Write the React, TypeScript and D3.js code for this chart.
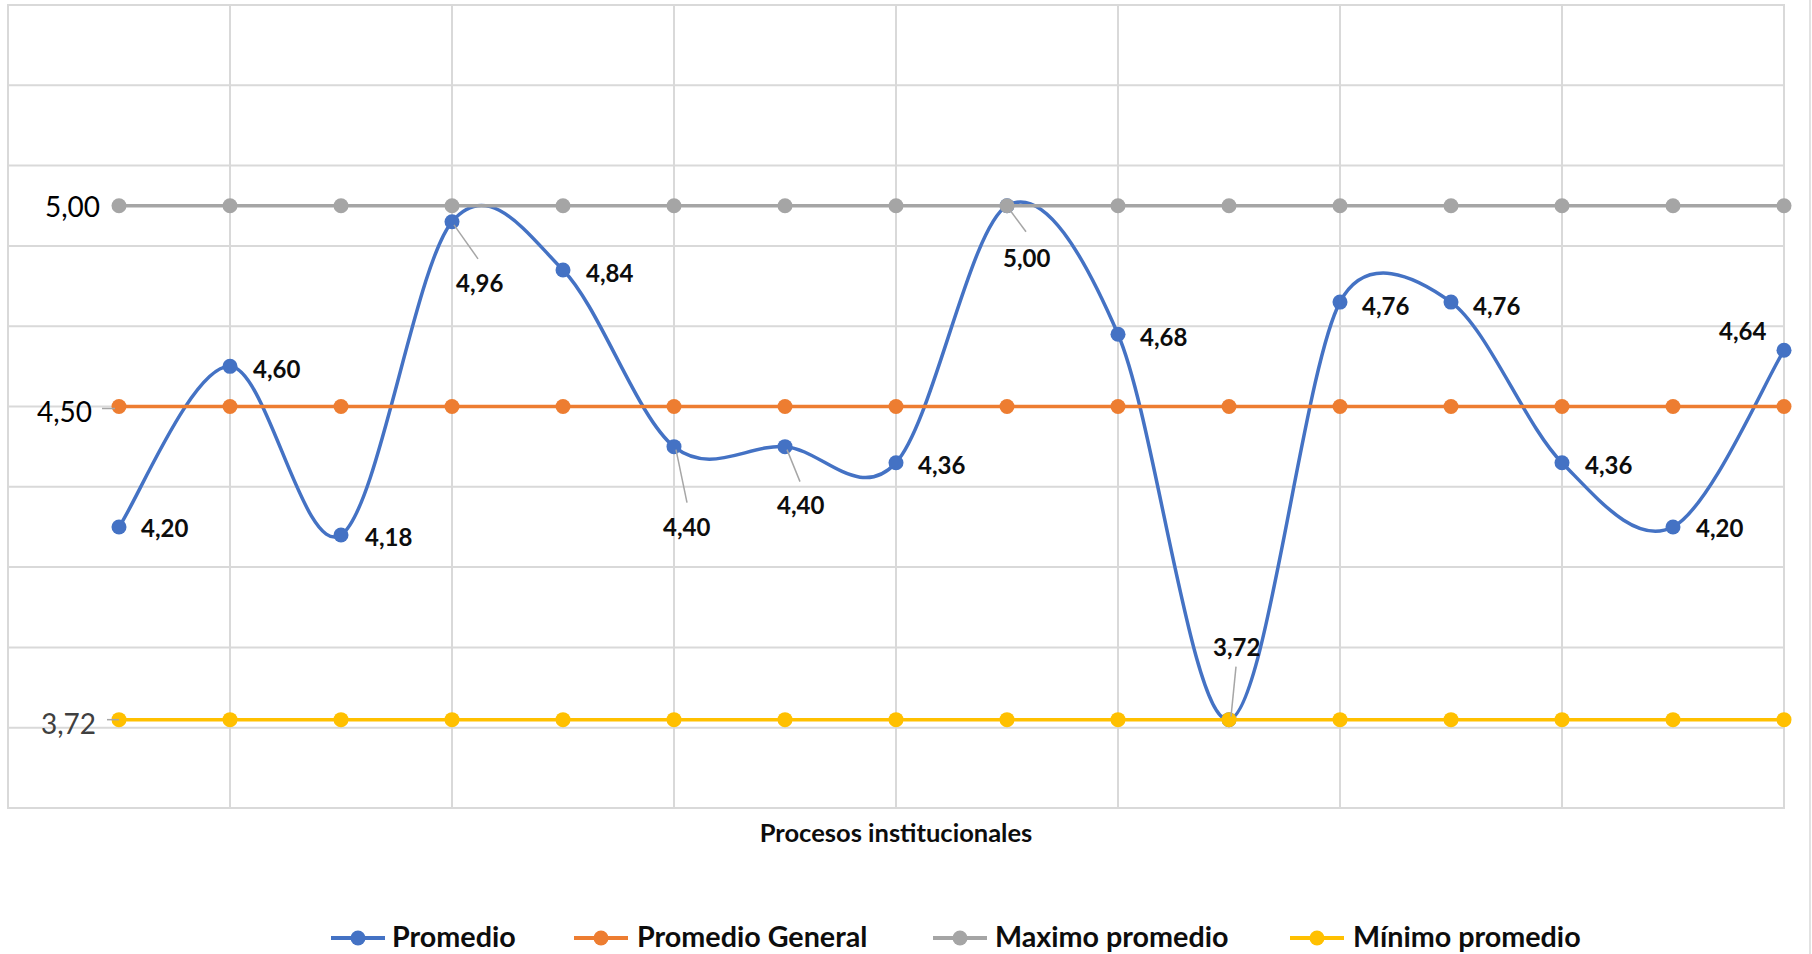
import React from "react";
import * as d3 from "d3";

// ---- data ----
const procesos = [1, 2, 3, 4, 5, 6, 7, 8, 9, 10, 11, 12, 13, 14, 15, 16];
const promedio = [4.2, 4.6, 4.18, 4.96, 4.84, 4.4, 4.4, 4.36, 5.0, 4.68, 3.72, 4.76, 4.76, 4.36, 4.2, 4.64];
const promedioGeneral = [4.5, 4.5, 4.5, 4.5, 4.5, 4.5, 4.5, 4.5, 4.5, 4.5, 4.5, 4.5, 4.5, 4.5, 4.5, 4.5];
const maximoPromedio = [5, 5, 5, 5, 5, 5, 5, 5, 5, 5, 5, 5, 5, 5, 5, 5];
const minimoPromedio = [3.72, 3.72, 3.72, 3.72, 3.72, 3.72, 3.72, 3.72, 3.72, 3.72, 3.72, 3.72, 3.72, 3.72, 3.72, 3.72];
const seriesNames = ["Promedio", "Promedio General", "Maximo promedio", "Mínimo promedio"];
const yGridValues = [3.5, 3.7, 3.9, 4.1, 4.3, 4.5, 4.7, 4.9, 5.1, 5.3, 5.5];
const xGridValues = [0, 2, 4, 6, 8, 10, 12, 14, 16];
const axisTitle = "Procesos institucionales";

// ---- style / layout ----
const W = 1812;
const H = 954;
const colors = ["#4472C4", "#ED7D31", "#A5A5A5", "#FFC000"];
const FONT = "Lato, 'Open Sans', sans-serif";
const grid = "#D9D9D9";
const leader = "#A6A6A6";

// label offsets for Promedio: [dx, dy, leaderEndDx, leaderEndDy] (null leader = none)
const promLabelPos: [number, number, number | null, number | null][] = [
  [22, 1, null, null],
  [23, 2, null, null],
  [24, 2, null, null],
  [4, 61, 26, 37],
  [23, 3, null, null],
  [-11, 80, 13, 56],
  [-8, 58, 15, 35],
  [22, 2, null, null],
  [-4, 52, 19, 26],
  [22, 2, null, null],
  [-16, -73, 7, -53],
  [22, 3, null, null],
  [22, 3, null, null],
  [23, 2, null, null],
  [23, 1, null, null],
  [-65, -20, null, null],
];

const fmt = (v: number) => v.toFixed(2).replace(".", ",");

// Excel-like smoothed line: Catmull-Rom Bezier, control arms limited to half the segment
function smoothPath(pts: [number, number][]) {
  const p = d3.path();
  p.moveTo(pts[0][0], pts[0][1]);
  const clamp = (v: [number, number], lim: number): [number, number] => {
    const m = Math.hypot(v[0], v[1]);
    return m > lim ? [(v[0] * lim) / m, (v[1] * lim) / m] : v;
  };
  for (let i = 0; i < pts.length - 1; i++) {
    const p0 = pts[i - 1] ?? pts[i];
    const p1 = pts[i];
    const p2 = pts[i + 1];
    const p3 = pts[i + 2] ?? pts[i + 1];
    const lim = Math.hypot(p2[0] - p1[0], p2[1] - p1[1]) * 0.5;
    const t1 = clamp([(p2[0] - p0[0]) / 6, (p2[1] - p0[1]) / 6], lim);
    const t2 = clamp([(p3[0] - p1[0]) / 6, (p3[1] - p1[1]) / 6], lim);
    p.bezierCurveTo(p1[0] + t1[0], p1[1] + t1[1], p2[0] - t2[0], p2[1] - t2[1], p2[0], p2[1]);
  }
  return p.toString();
}

export default function App() {
  const x = d3.scaleLinear().domain([0, 16]).range([8, 1784]);
  const y = d3.scaleLinear().domain([3.5, 5.5]).range([808, 5]);

  const series = [promedio, promedioGeneral, maximoPromedio, minimoPromedio];
  const straight = d3
    .line<number>()
    .x((_, i) => x(procesos[i]))
    .y((d) => y(d));
  const toPts = (s: number[]) => s.map((v, i) => [x(procesos[i]), y(v)] as [number, number]);

  // flat series first-point labels: [series, dx(end), dy, color, leader from dx, to dx, leader dy]
  const flatLabels: [number[], number, number, string, number | null, number | null, number][] = [
    [promedioGeneral, -27, 4, "#000000", -17, -4, 2],
    [maximoPromedio, -19, 0, "#000000", null, null, 0],
    [minimoPromedio, -23, 3, "#404040", -12, 0, 0],
  ];

  const legendLineX = [331, 574, 933, 1290];
  const legendTextX = [392, 637, 995, 1353];

  return (
    <svg
      width={W}
      height={H}
      style={{ position: "absolute", left: 0, top: 0, background: "#fff" }}
      fontFamily={FONT}
    >
      <rect x={0} y={0} width={W} height={H} fill="#fff" />
      {/* outer chart border (right edge) */}
      <line x1={1810} x2={1810} y1={0} y2={H} stroke={grid} strokeWidth={1.5} />
      {/* gridlines */}
      <g stroke={grid} strokeWidth={2}>
        {yGridValues.map((v) => (
          <line key={"h" + v} x1={x(0) - 1} x2={x(16) + 1} y1={y(v)} y2={y(v)} />
        ))}
        {xGridValues.map((v) => (
          <line key={"v" + v} x1={x(v)} x2={x(v)} y1={y(5.5)} y2={y(3.5)} />
        ))}
      </g>

      {/* series */}
      {series.map((s, si) => (
        <g key={si}>
          <path
            d={si === 0 ? smoothPath(toPts(s)) : straight(s) || ""}
            fill="none"
            stroke={colors[si]}
            strokeWidth={3.5}
            strokeLinejoin="round"
          />
          {s.map((v, i) => (
            <circle key={i} cx={x(procesos[i])} cy={y(v)} r={7.5} fill={colors[si]} />
          ))}
        </g>
      ))}

      {/* Promedio labels */}
      <g fontWeight={700} fontSize={24} fill="#0D0D0D">
        {promedio.map((v, i) => {
          const [dx, dy, lx, ly] = promLabelPos[i];
          const px = x(procesos[i]);
          const py = y(v);
          return (
            <g key={i}>
              {lx !== null && ly !== null && (
                <line x1={px + 2} y1={py + (ly > 0 ? 3 : -3)} x2={px + lx} y2={py + ly} stroke={leader} strokeWidth={1.5} />
              )}
              <text x={px + dx} y={py + dy} dominantBaseline="central">
                {fmt(v)}
              </text>
            </g>
          );
        })}
      </g>

      {/* flat series labels at first point */}
      <g fontSize={28}>
        {flatLabels.map(([s, dx, dy, c, l1, l2, ldy], k) => {
          const px = x(procesos[0]);
          const py = y(s[0]);
          return (
            <g key={k}>
              {l1 !== null && l2 !== null && (
                <line x1={px + l1} x2={px + l2} y1={py + ldy} y2={py + ldy} stroke={leader} strokeWidth={1.5} />
              )}
              <text x={px + dx} y={py + dy} textAnchor="end" dominantBaseline="central" fill={c}>
                {fmt(s[0])}
              </text>
            </g>
          );
        })}
      </g>

      {/* axis title */}
      <text
        x={(x(0) + x(16)) / 2}
        y={832}
        textAnchor="middle"
        dominantBaseline="central"
        fontWeight={700}
        fontSize={25.5}
        fill="#0D0D0D"
      >
        {axisTitle}
      </text>

      {/* legend */}
      <g>
        {seriesNames.map((name, i) => (
          <g key={name}>
            <line x1={legendLineX[i]} x2={legendLineX[i] + 54} y1={938} y2={938} stroke={colors[i]} strokeWidth={4} />
            <circle cx={legendLineX[i] + 27} cy={938} r={7.5} fill={colors[i]} />
            <text
              x={legendTextX[i]}
              y={936}
              dominantBaseline="central"
              fontSize={28.7}
              fontWeight={700}
              fill="#0D0D0D"
            >
              {name}
            </text>
          </g>
        ))}
      </g>
    </svg>
  );
}
